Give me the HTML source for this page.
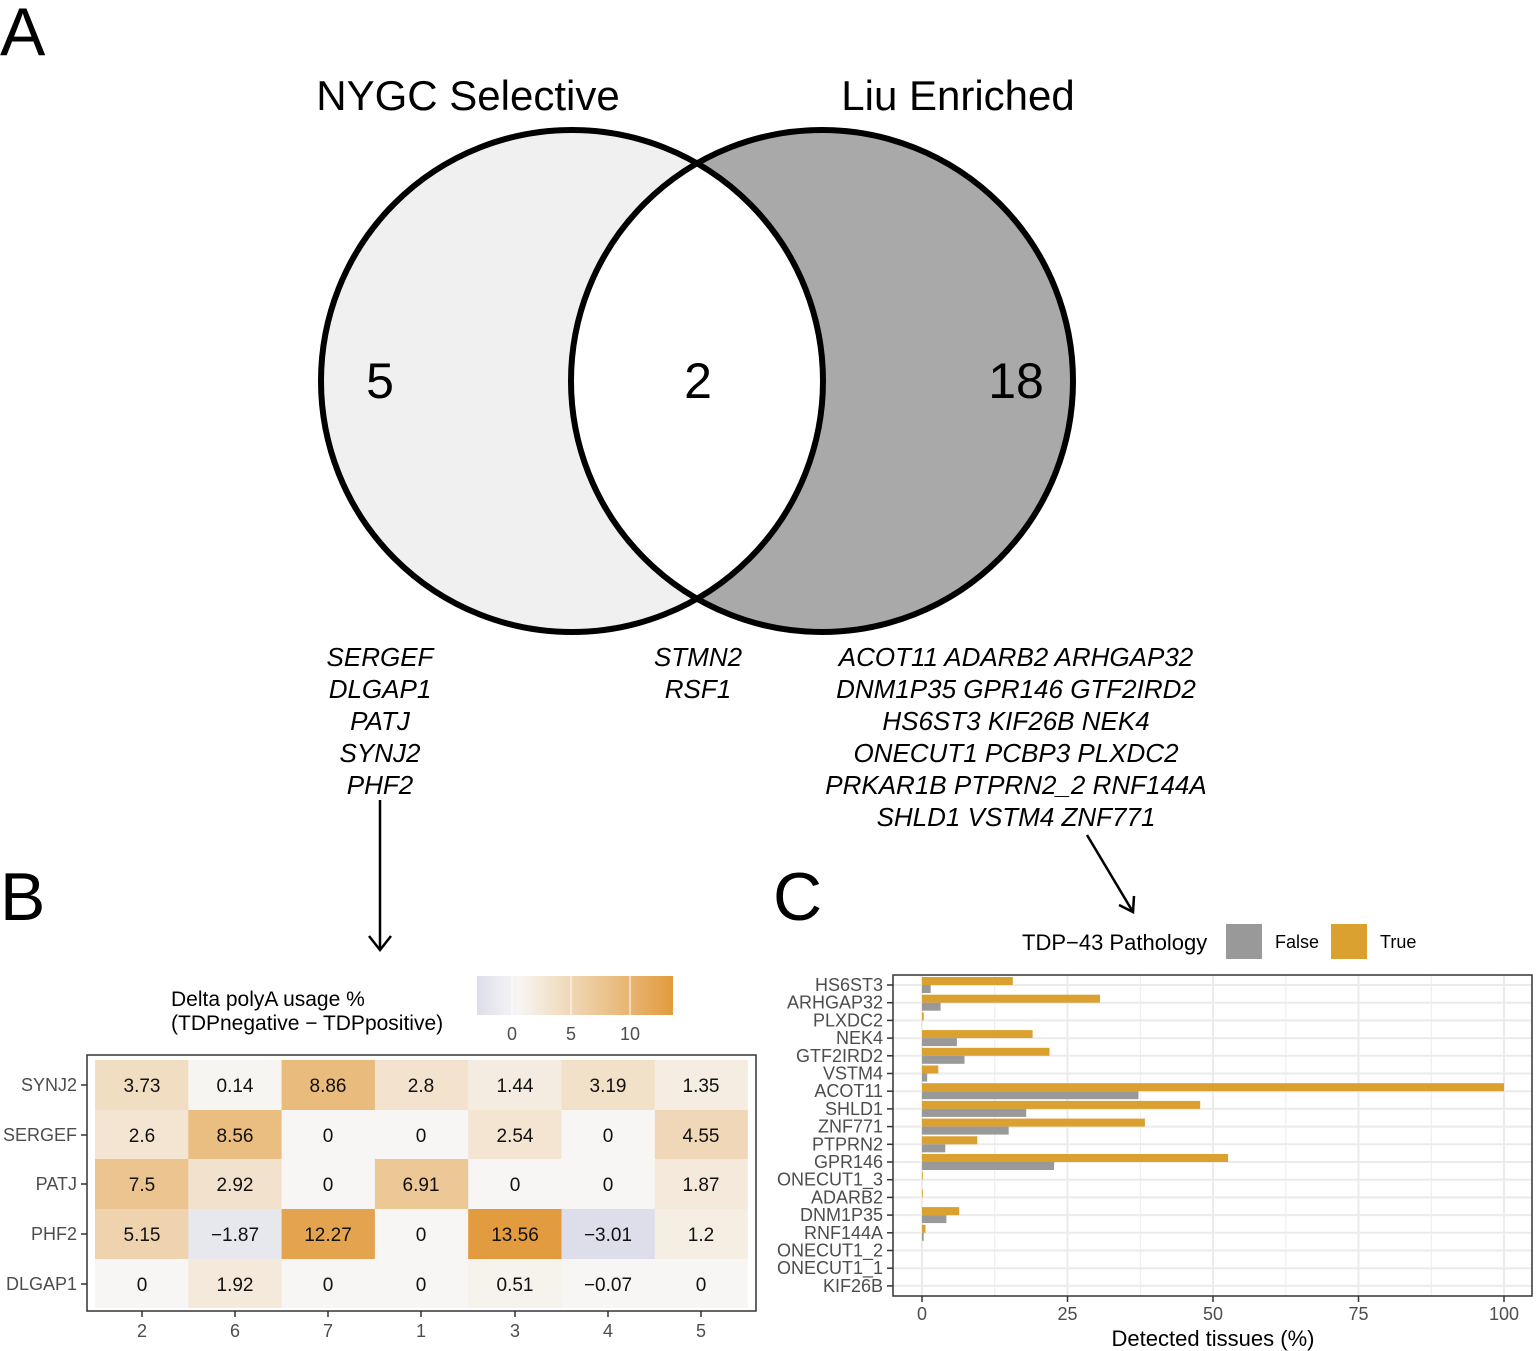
<!DOCTYPE html>
<html><head><meta charset="utf-8"><style>
html,body{margin:0;padding:0;background:#fff}
svg{display:block}
text{font-family:"Liberation Sans",sans-serif}
.g{font-style:italic;font-size:26px;text-anchor:middle}
.t{font-size:18px;fill:#4d4d4d}
.c{font-size:19px;text-anchor:middle;fill:#111}
</style></head><body>
<svg width="1536" height="1351" viewBox="0 0 1536 1351" xmlns="http://www.w3.org/2000/svg">
<defs>
<clipPath id="lc"><circle cx="572" cy="381" r="251"/></clipPath>
<linearGradient id="lg" x1="0" x2="1" y1="0" y2="0">
<stop offset="0" stop-color="#dedeeb"/><stop offset="0.21" stop-color="#f7f6f4"/><stop offset="1" stop-color="#e29b3e"/>
</linearGradient>
</defs>
<text x="0" y="55" font-size="68">A</text>
<text x="468" y="110" font-size="42" text-anchor="middle">NYGC Selective</text>
<text x="958" y="110" font-size="42" text-anchor="middle">Liu Enriched</text>
<circle cx="572" cy="381" r="251" fill="#eff0ef"/>
<circle cx="822" cy="381" r="251" fill="#a9a9a9"/>
<circle cx="822" cy="381" r="251" fill="#fff" clip-path="url(#lc)"/>
<circle cx="572" cy="381" r="251" fill="none" stroke="#000" stroke-width="6"/>
<circle cx="822" cy="381" r="251" fill="none" stroke="#000" stroke-width="6"/>
<text x="380" y="398" font-size="50" text-anchor="middle">5</text>
<text x="698" y="398" font-size="50" text-anchor="middle">2</text>
<text x="1016" y="398" font-size="50" text-anchor="middle">18</text>
<g class="g">
<text x="380" y="666">SERGEF</text><text x="380" y="698">DLGAP1</text><text x="380" y="730">PATJ</text><text x="380" y="762">SYNJ2</text><text x="380" y="794">PHF2</text>
<text x="698" y="666">STMN2</text><text x="698" y="698">RSF1</text>
<text x="1016" y="666">ACOT11 ADARB2 ARHGAP32</text><text x="1016" y="698">DNM1P35 GPR146 GTF2IRD2</text><text x="1016" y="730">HS6ST3 KIF26B NEK4</text><text x="1016" y="762">ONECUT1 PCBP3 PLXDC2</text><text x="1016" y="794">PRKAR1B  PTPRN2_2 RNF144A</text><text x="1016" y="826">SHLD1 VSTM4 ZNF771</text>
</g>
<g stroke="#000" stroke-width="2.5" fill="none">
<line x1="380" y1="800" x2="380" y2="950"/><polyline points="369,936 380,950 391,936"/>
<line x1="1087" y1="835" x2="1133" y2="912"/><polyline points="1119,905 1133,912 1134,896"/>
</g>
<text x="0" y="920" font-size="68">B</text>
<text x="773" y="920" font-size="68">C</text>
<!-- B legend -->
<text x="171" y="1006" font-size="21">Delta polyA usage %</text>
<text x="171" y="1030" font-size="21">(TDPnegative − TDPpositive)</text>
<rect x="477" y="976" width="196" height="39" fill="url(#lg)"/>
<g stroke="#fff" stroke-width="1"><line x1="512" y1="976" x2="512" y2="1015"/><line x1="571" y1="976" x2="571" y2="1015"/><line x1="630" y1="976" x2="630" y2="1015"/></g>
<g class="t" text-anchor="middle"><text x="512" y="1040">0</text><text x="571" y="1040">5</text><text x="630" y="1040">10</text></g>
<!-- B heatmap -->
<rect x="87" y="1055" width="669" height="256" fill="#fff" stroke="#333" stroke-width="1.5"/>
<g>
<rect x="95" y="1060" width="94" height="50" fill="#f1ddc2"/><rect x="188.3" y="1060" width="94" height="50" fill="#f7f5f2"/><rect x="281.6" y="1060" width="94" height="50" fill="#e9bb7d"/><rect x="374.9" y="1060" width="94" height="50" fill="#f3e3ce"/><rect x="468.2" y="1060" width="94" height="50" fill="#f5ece1"/><rect x="561.5" y="1060" width="94" height="50" fill="#f2e1c9"/><rect x="654.8" y="1060" width="93" height="50" fill="#f5ede2"/>
<rect x="95" y="1110" width="94" height="50" fill="#f3e5d1"/><rect x="188.3" y="1110" width="94" height="50" fill="#eabd81"/><rect x="281.6" y="1110" width="94" height="50" fill="#f7f6f4"/><rect x="374.9" y="1110" width="94" height="50" fill="#f7f6f4"/><rect x="468.2" y="1110" width="94" height="50" fill="#f3e5d2"/><rect x="561.5" y="1110" width="94" height="50" fill="#f7f6f4"/><rect x="654.8" y="1110" width="93" height="50" fill="#f0d7b7"/>
<rect x="95" y="1159" width="94" height="51" fill="#ebc48f"/><rect x="188.3" y="1159" width="94" height="51" fill="#f2e2cd"/><rect x="281.6" y="1159" width="94" height="51" fill="#f7f6f4"/><rect x="374.9" y="1159" width="94" height="51" fill="#ecc897"/><rect x="468.2" y="1159" width="94" height="51" fill="#f7f6f4"/><rect x="561.5" y="1159" width="94" height="51" fill="#f7f6f4"/><rect x="654.8" y="1159" width="93" height="51" fill="#f4e9db"/>
<rect x="95" y="1209" width="94" height="50" fill="#efd3af"/><rect x="188.3" y="1209" width="94" height="50" fill="#e7e7ee"/><rect x="281.6" y="1209" width="94" height="50" fill="#e4a44f"/><rect x="374.9" y="1209" width="94" height="50" fill="#f7f6f4"/><rect x="468.2" y="1209" width="94" height="50" fill="#e29b3e"/><rect x="561.5" y="1209" width="94" height="50" fill="#dedeeb"/><rect x="654.8" y="1209" width="93" height="50" fill="#f5eee3"/>
<rect x="95" y="1259" width="94" height="49" fill="#f7f6f4"/><rect x="188.3" y="1259" width="94" height="49" fill="#f4e9da"/><rect x="281.6" y="1259" width="94" height="49" fill="#f7f6f4"/><rect x="374.9" y="1259" width="94" height="49" fill="#f7f6f4"/><rect x="468.2" y="1259" width="94" height="49" fill="#f6f2ec"/><rect x="561.5" y="1259" width="94" height="49" fill="#f7f6f4"/><rect x="654.8" y="1259" width="93" height="49" fill="#f7f6f4"/>
</g>
<g class="c">
<text x="142" y="1092">3.73</text><text x="235" y="1092">0.14</text><text x="328" y="1092">8.86</text><text x="421" y="1092">2.8</text><text x="515" y="1092">1.44</text><text x="608" y="1092">3.19</text><text x="701" y="1092">1.35</text>
<text x="142" y="1142">2.6</text><text x="235" y="1142">8.56</text><text x="328" y="1142">0</text><text x="421" y="1142">0</text><text x="515" y="1142">2.54</text><text x="608" y="1142">0</text><text x="701" y="1142">4.55</text>
<text x="142" y="1191">7.5</text><text x="235" y="1191">2.92</text><text x="328" y="1191">0</text><text x="421" y="1191">6.91</text><text x="515" y="1191">0</text><text x="608" y="1191">0</text><text x="701" y="1191">1.87</text>
<text x="142" y="1241">5.15</text><text x="235" y="1241">−1.87</text><text x="328" y="1241">12.27</text><text x="421" y="1241">0</text><text x="515" y="1241">13.56</text><text x="608" y="1241">−3.01</text><text x="701" y="1241">1.2</text>
<text x="142" y="1291">0</text><text x="235" y="1291">1.92</text><text x="328" y="1291">0</text><text x="421" y="1291">0</text><text x="515" y="1291">0.51</text><text x="608" y="1291">−0.07</text><text x="701" y="1291">0</text>
</g>
<g class="t" text-anchor="end">
<text x="77" y="1091">SYNJ2</text><text x="77" y="1141">SERGEF</text><text x="77" y="1190">PATJ</text><text x="77" y="1240">PHF2</text><text x="77" y="1290">DLGAP1</text>
</g>
<g stroke="#333" stroke-width="1.5">
<line x1="81" y1="1085" x2="87" y2="1085"/><line x1="81" y1="1135" x2="87" y2="1135"/><line x1="81" y1="1184" x2="87" y2="1184"/><line x1="81" y1="1234" x2="87" y2="1234"/><line x1="81" y1="1284" x2="87" y2="1284"/>
<line x1="142" y1="1311" x2="142" y2="1317"/><line x1="235" y1="1311" x2="235" y2="1317"/><line x1="328" y1="1311" x2="328" y2="1317"/><line x1="421" y1="1311" x2="421" y2="1317"/><line x1="515" y1="1311" x2="515" y2="1317"/><line x1="608" y1="1311" x2="608" y2="1317"/><line x1="701" y1="1311" x2="701" y2="1317"/>
</g>
<g class="t" text-anchor="middle">
<text x="142" y="1337">2</text><text x="235" y="1337">6</text><text x="328" y="1337">7</text><text x="421" y="1337">1</text><text x="515" y="1337">3</text><text x="608" y="1337">4</text><text x="701" y="1337">5</text>
</g>
<!-- C legend -->
<text x="1022" y="950" font-size="22">TDP−43 Pathology</text>
<rect x="1226" y="924" width="36" height="35" fill="#999"/>
<text x="1275" y="948" font-size="18">False</text>
<rect x="1331" y="924" width="36" height="35" fill="#daa030"/>
<text x="1380" y="948" font-size="18">True</text>
<!-- C plot -->
<rect x="893" y="975" width="639" height="321" fill="#fff"/>
<g stroke="#ebebeb" stroke-width="1">
<line x1="994.8" y1="975" x2="994.8" y2="1296"/><line x1="1140.3" y1="975" x2="1140.3" y2="1296"/><line x1="1285.8" y1="975" x2="1285.8" y2="1296"/><line x1="1431.3" y1="975" x2="1431.3" y2="1296"/>
</g>
<g stroke="#ebebeb" stroke-width="2">
<line x1="922" y1="975" x2="922" y2="1296"/><line x1="1067.5" y1="975" x2="1067.5" y2="1296"/><line x1="1213" y1="975" x2="1213" y2="1296"/><line x1="1358.5" y1="975" x2="1358.5" y2="1296"/><line x1="1504" y1="975" x2="1504" y2="1296"/>
<line x1="893" y1="985" x2="1532" y2="985"/><line x1="893" y1="1002.7" x2="1532" y2="1002.7"/><line x1="893" y1="1020.4" x2="1532" y2="1020.4"/><line x1="893" y1="1038.1" x2="1532" y2="1038.1"/><line x1="893" y1="1055.8" x2="1532" y2="1055.8"/><line x1="893" y1="1073.5" x2="1532" y2="1073.5"/><line x1="893" y1="1091.2" x2="1532" y2="1091.2"/><line x1="893" y1="1108.9" x2="1532" y2="1108.9"/><line x1="893" y1="1126.6" x2="1532" y2="1126.6"/><line x1="893" y1="1144.3" x2="1532" y2="1144.3"/><line x1="893" y1="1162" x2="1532" y2="1162"/><line x1="893" y1="1179.7" x2="1532" y2="1179.7"/><line x1="893" y1="1197.4" x2="1532" y2="1197.4"/><line x1="893" y1="1215.1" x2="1532" y2="1215.1"/><line x1="893" y1="1232.8" x2="1532" y2="1232.8"/><line x1="893" y1="1250.5" x2="1532" y2="1250.5"/><line x1="893" y1="1268.2" x2="1532" y2="1268.2"/><line x1="893" y1="1285.9" x2="1532" y2="1285.9"/>
</g>
<g fill="#daa030">
<rect x="922" y="977" width="90.8" height="8"/><rect x="922" y="994.7" width="178" height="8"/><rect x="922" y="1012.4" width="1.7" height="8"/><rect x="922" y="1030.1" width="110.6" height="8"/><rect x="922" y="1047.8" width="127.5" height="8"/><rect x="922" y="1065.5" width="16.3" height="8"/><rect x="922" y="1083.2" width="582" height="8"/><rect x="922" y="1100.9" width="278.2" height="8"/><rect x="922" y="1118.6" width="222.9" height="8"/><rect x="922" y="1136.3" width="55.3" height="8"/><rect x="922" y="1154" width="306.1" height="8"/><rect x="922" y="1171.7" width="0.8" height="8"/><rect x="922" y="1189.4" width="0.8" height="8"/><rect x="922" y="1207.1" width="37.2" height="8"/><rect x="922" y="1224.8" width="3.5" height="8"/>
</g>
<g fill="#999">
<rect x="922" y="985" width="8.7" height="8"/><rect x="922" y="1002.7" width="18.6" height="8"/><rect x="922" y="1038.1" width="34.9" height="8"/><rect x="922" y="1055.8" width="42.5" height="8"/><rect x="922" y="1073.5" width="5.2" height="8"/><rect x="922" y="1091.2" width="216.5" height="8"/><rect x="922" y="1108.9" width="104.2" height="8"/><rect x="922" y="1126.6" width="86.7" height="8"/><rect x="922" y="1144.3" width="23.3" height="8"/><rect x="922" y="1162" width="132.1" height="8"/><rect x="922" y="1215.1" width="24.4" height="8"/><rect x="922" y="1232.8" width="1.7" height="8"/>
</g>
<rect x="893" y="975" width="639" height="321" fill="none" stroke="#333" stroke-width="1.5"/>
<g class="t" text-anchor="end" font-size="16">
<text x="883" y="991">HS6ST3</text><text x="883" y="1008.7">ARHGAP32</text><text x="883" y="1026.4">PLXDC2</text><text x="883" y="1044.1">NEK4</text><text x="883" y="1061.8">GTF2IRD2</text><text x="883" y="1079.5">VSTM4</text><text x="883" y="1097.2">ACOT11</text><text x="883" y="1114.9">SHLD1</text><text x="883" y="1132.6">ZNF771</text><text x="883" y="1150.3">PTPRN2</text><text x="883" y="1168">GPR146</text><text x="883" y="1185.7">ONECUT1_3</text><text x="883" y="1203.4">ADARB2</text><text x="883" y="1221.1">DNM1P35</text><text x="883" y="1238.8">RNF144A</text><text x="883" y="1256.5">ONECUT1_2</text><text x="883" y="1274.2">ONECUT1_1</text><text x="883" y="1291.9">KIF26B</text>
</g>
<g stroke="#333" stroke-width="1.5">
<line x1="887" y1="985" x2="893" y2="985"/><line x1="887" y1="1002.7" x2="893" y2="1002.7"/><line x1="887" y1="1020.4" x2="893" y2="1020.4"/><line x1="887" y1="1038.1" x2="893" y2="1038.1"/><line x1="887" y1="1055.8" x2="893" y2="1055.8"/><line x1="887" y1="1073.5" x2="893" y2="1073.5"/><line x1="887" y1="1091.2" x2="893" y2="1091.2"/><line x1="887" y1="1108.9" x2="893" y2="1108.9"/><line x1="887" y1="1126.6" x2="893" y2="1126.6"/><line x1="887" y1="1144.3" x2="893" y2="1144.3"/><line x1="887" y1="1162" x2="893" y2="1162"/><line x1="887" y1="1179.7" x2="893" y2="1179.7"/><line x1="887" y1="1197.4" x2="893" y2="1197.4"/><line x1="887" y1="1215.1" x2="893" y2="1215.1"/><line x1="887" y1="1232.8" x2="893" y2="1232.8"/><line x1="887" y1="1250.5" x2="893" y2="1250.5"/><line x1="887" y1="1268.2" x2="893" y2="1268.2"/><line x1="887" y1="1285.9" x2="893" y2="1285.9"/>
<line x1="922" y1="1296" x2="922" y2="1302"/><line x1="1067.5" y1="1296" x2="1067.5" y2="1302"/><line x1="1213" y1="1296" x2="1213" y2="1302"/><line x1="1358.5" y1="1296" x2="1358.5" y2="1302"/><line x1="1504" y1="1296" x2="1504" y2="1302"/>
</g>
<g class="t" text-anchor="middle">
<text x="922" y="1320">0</text><text x="1067.5" y="1320">25</text><text x="1213" y="1320">50</text><text x="1358.5" y="1320">75</text><text x="1504" y="1320">100</text>
</g>
<text x="1213" y="1346" font-size="22" text-anchor="middle">Detected tissues (%)</text>
</svg>
</body></html>
